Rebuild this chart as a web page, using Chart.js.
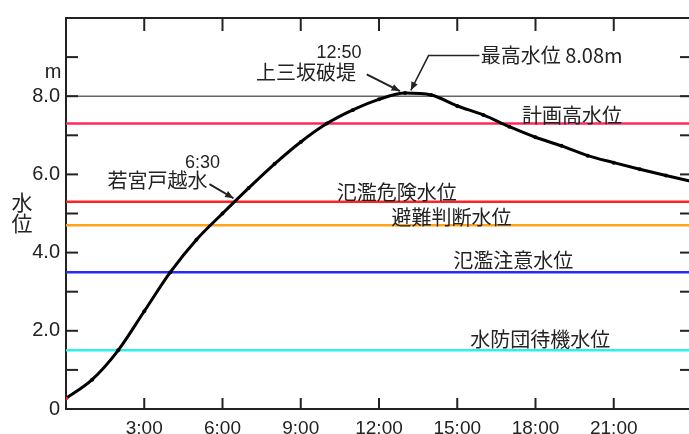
<!DOCTYPE html>
<html><head><meta charset="utf-8">
<script src="https://cdn.jsdelivr.net/npm/chart.js@4/dist/chart.umd.min.js"></script>
<style>html,body{margin:0;padding:0;background:#fff;overflow:hidden;}canvas{display:block;}</style>
</head><body>
<canvas id="c" width="700" height="434"></canvas>
<script>
// ---- data ----
const hours = [0,1,2,3,4,5,6,7,8,9,10,11,12,13,14,15,16,17,18,19,20,21,22,23,24];
const waterLevel = [0.27,0.75,1.5,2.5,3.5,4.33,5.0,5.65,6.27,6.83,7.3,7.65,7.92,8.08,8.03,7.75,7.52,7.22,6.95,6.73,6.48,6.3,6.13,5.97,5.82];
const levelNames = ['計画高水位','氾濫危険水位','避難判断水位','氾濫注意水位','水防団待機水位'];
const levelValues = [7.3,5.3,4.7,3.5,1.5];
const refLineValue = 8.0;
const xTickHours = [3,6,9,12,15,18,21];
const yLabelValues = [0,2,4,6,8];
const yUnit = 'm';
const yTitle = ['水','位'];
const events = ['若宮戸越水','上三坂破堤'];
const eventTimes = ['6:30','12:50'];
const peakText = '最高水位 8.08m';

// ---- styles / positions ----
const levelColors = ['#ff2a5c','#ff2222','#ffa31a','#2a2aff','#2ff0e6'];
const levelLabelPos = [[19.4,7.52],[12.68,5.54],[14.78,4.91],[17.15,3.80],[18.18,1.77]];
const CJK = '"Noto Sans CJK JP", sans-serif';
const LAT = '"Liberation Sans", Arial, sans-serif';
const INK = '#222';

const datasets = [{
  data: hours.map((h,i)=>({x:h,y:waterLevel[i]})),
  borderColor:'#000', borderWidth:3, order:0,
  pointRadius:2, pointBorderWidth:0,
  pointBackgroundColor: c => c.dataIndex===0 ? '#ff2020' : '#000',
  cubicInterpolationMode:'monotone'
},{
  data:[{x:hours[0],y:refLineValue},{x:hours[hours.length-1],y:refLineValue}],
  borderColor:'#666', borderWidth:1.5, pointRadius:0, order:2
}];
levelValues.forEach((v,i)=>datasets.push({
  data:[{x:hours[0],y:v},{x:hours[hours.length-1],y:v}],
  borderColor:levelColors[i], borderWidth:2.5, pointRadius:0, order:1
}));

function seg(ctx,x1,y1,x2,y2){ctx.beginPath();ctx.moveTo(x1,y1);ctx.lineTo(x2,y2);ctx.stroke();}
function arrowHead(ctx,x1,y1,x2,y2){
  const a=Math.atan2(y2-y1,x2-x1), L=9, w=0.4;
  ctx.beginPath();ctx.moveTo(x2,y2);
  ctx.lineTo(x2-L*Math.cos(a-w),y2-L*Math.sin(a-w));
  ctx.lineTo(x2-L*Math.cos(a+w),y2-L*Math.sin(a+w));
  ctx.closePath();ctx.fill();
}

const deco = {
  id:'deco',
  afterDatasetsDraw(chart){
    const {ctx, chartArea:a, scales:{x,y}} = chart;
    const X=v=>x.getPixelForValue(v), Y=v=>y.getPixelForValue(v);
    ctx.save();
    ctx.strokeStyle=INK; ctx.fillStyle=INK; ctx.lineWidth=2;
    seg(ctx,a.left,a.top,a.right,a.top);
    for(let v=1; v<10; v++){ seg(ctx,a.left,Y(v),a.left+12,Y(v)); seg(ctx,a.right,Y(v),a.right-12,Y(v)); }
    xTickHours.forEach(h=>{ seg(ctx,X(h),a.bottom,X(h),a.bottom-11); seg(ctx,X(h),a.top,X(h),a.top+13); });

    ctx.textAlign='center'; ctx.textBaseline='middle';
    // y unit + title
    ctx.font='20px '+LAT; ctx.fillText(yUnit, a.left-13, Y(8.6));
    ctx.font='21px '+CJK;
    ctx.fillText(yTitle[0], a.left-44, Y(5.29));
    ctx.fillText(yTitle[1], a.left-44, Y(4.76));

    // level labels
    ctx.font='20px '+CJK;
    levelNames.forEach((n,i)=>ctx.fillText(n, X(levelLabelPos[i][0]), Y(levelLabelPos[i][1])));

    // event annotations
    ctx.font='20px '+CJK;
    ctx.fillText(events[0], X(3.51), Y(5.85));
    ctx.fillText(events[1], X(9.2), Y(8.61));
    ctx.font='18px '+LAT;
    ctx.fillText(eventTimes[0], X(5.23), Y(6.28));
    ctx.fillText(eventTimes[1], X(10.47), Y(9.11));
    ctx.textAlign='left';
    ctx.font='20px '+CJK;
    ctx.fillText(peakText, X(15.9), Y(9.04));

    // arrows
    ctx.lineWidth=2;
    seg(ctx,X(5.5),Y(5.75),X(6.42),Y(5.39)); arrowHead(ctx,X(5.5),Y(5.75),X(6.42),Y(5.39));
    seg(ctx,X(11.53),Y(8.56),X(12.8),Y(8.13)); arrowHead(ctx,X(11.53),Y(8.56),X(12.8),Y(8.13));
    ctx.lineWidth=1.5;
    ctx.beginPath(); ctx.moveTo(X(15.85),Y(9.04)); ctx.lineTo(X(13.9),Y(9.04)); ctx.lineTo(X(13.22),Y(8.15)); ctx.stroke();
    arrowHead(ctx,X(13.9),Y(9.04),X(13.22),Y(8.15));
    ctx.restore();
  }
};

new Chart(document.getElementById('c'),{
  type:'line',
  data:{datasets},
  options:{
    responsive:false, animation:false, devicePixelRatio:1,
    layout:{padding:{top:14,right:6,left:0,bottom:0}},
    plugins:{legend:{display:false},tooltip:{enabled:false}},
    scales:{
      x:{type:'linear',min:0,max:24,
        afterFit:s=>{s.height=25;},
        border:{display:true,color:INK,width:2},
        grid:{drawOnChartArea:false,drawTicks:false},
        ticks:{stepSize:3,autoSkip:false,maxRotation:0,padding:8,color:INK,font:{family:LAT,size:19},
          callback:v=>xTickHours.includes(v)?v+':00':''}
      },
      y:{min:0,max:10,
        afterFit:s=>{s.width=66;},
        border:{display:true,color:INK,width:2},
        grid:{drawOnChartArea:false,drawTicks:false},
        ticks:{stepSize:2,padding:6,color:INK,font:{family:LAT,size:20},
          callback:v=>yLabelValues.includes(v)?(v===0?'0':v.toFixed(1)):''}
      }
    }
  },
  plugins:[deco]
});
</script>
</body></html>
